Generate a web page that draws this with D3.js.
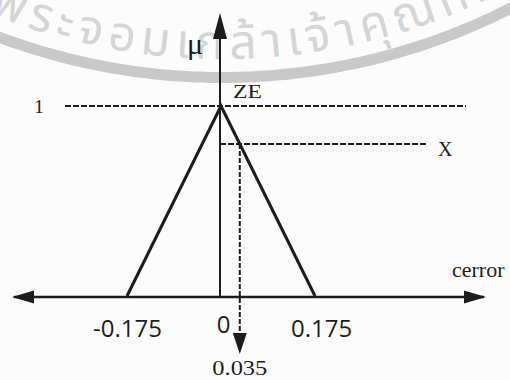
<!DOCTYPE html>
<html>
<head>
<meta charset="utf-8">
<script src="https://cdn.jsdelivr.net/npm/d3@7"></script>
<style>
  html, body { margin: 0; padding: 0; background: #fcfcfc; }
  svg { display: block; }
</style>
</head>
<body>
<svg id="chart" width="510" height="380"></svg>
<script>
// Triangular membership function "ZE" for the error input
const errorTicks = [-0.175, 0, 0.175];
const errorTickLabels = ["-0.175", "0", "0.175"];
const zeErrors = [-0.175, 0, 0.175];
const zeDegrees = [0, 1, 0];
const muTicks = [1];
const muTickLabels = ["1"];
const sampleError = 0.035;
const sampleErrorLabel = "0.035";
const setName = "ZE";
const sampleName = "X";
const xTitle = "cerror";
const yTitle = "μ";
const sealText = "พระจอมเกล้าเจ้าคุณทหาร";

const svg = d3.select("#chart");
const ink = "#1c1c1c";

const x = d3.scaleLinear().domain([-0.175, 0.175]).range([127, 315]);
const y = d3.scaleLinear().domain([0, 1]).range([296, 106]);

// membership degree of a crisp error on the ZE triangle
const zeMembership = d3.scaleLinear().domain(zeErrors).range(zeDegrees).clamp(true);
const sampleDegree = zeMembership(sampleError);

// faint seal printed behind the figure: ring segment and curved lettering
const sc = { cx: 222, cy: -558 };
const ringY = (px, r) => sc.cy + Math.sqrt(r * r - (px - sc.cx) * (px - sc.cx));
const ring = d3.area()
  .x((px) => px)
  .y0((px) => ringY(px, 630))
  .y1((px) => ringY(px, 641));
svg.append("path")
  .attr("d", ring(d3.range(-10, 525, 5)))
  .attr("fill", "#c9c9c9");

function arcPath(r, span) {
  const a0 = Math.PI / 2 + span, a1 = Math.PI / 2 - span;
  return `M${sc.cx + r * Math.cos(a0)},${sc.cy + r * Math.sin(a0)} A${r},${r} 0 0 0 ${sc.cx + r * Math.cos(a1)},${sc.cy + r * Math.sin(a1)}`;
}
svg.append("path")
  .attr("id", "sealPath")
  .attr("d", arcPath(617, 0.52))
  .attr("fill", "none");
svg.append("text")
  .attr("font-family", "'Noto Sans Thai', 'Noto Sans', 'DejaVu Sans', sans-serif")
  .attr("font-size", 48)
  .attr("letter-spacing", 6)
  .attr("fill", "#d5d5d5")
  .append("textPath")
  .attr("href", "#sealPath")
  .attr("startOffset", 82)
  .text(sealText);

// arrowhead helper
function arrow(tip, dir, len, half) {
  const [tx, ty] = tip;
  let pts;
  if (dir === "left") pts = [[tx, ty], [tx + len, ty - half], [tx + len, ty + half]];
  if (dir === "right") pts = [[tx, ty], [tx - len, ty - half], [tx - len, ty + half]];
  if (dir === "up") pts = [[tx, ty], [tx - half, ty + len], [tx + half, ty + len]];
  if (dir === "down") pts = [[tx, ty], [tx - half, ty - len], [tx + half, ty - len]];
  svg.append("path").attr("d", "M" + pts.join("L") + "Z").attr("fill", ink);
}

// horizontal axis with arrows at both ends
const axisY = y(0) + 1;
svg.append("line")
  .attr("x1", 14).attr("x2", 484).attr("y1", axisY).attr("y2", axisY)
  .attr("stroke", ink).attr("stroke-width", 2.6);
arrow([12, axisY], "left", 22, 6.5);
arrow([486, axisY], "right", 22, 6.5);

// vertical axis
const x0 = x(0) - 1;
svg.append("line")
  .attr("x1", x0).attr("x2", x0).attr("y1", axisY).attr("y2", 30)
  .attr("stroke", ink).attr("stroke-width", 2);
arrow([x0, 13], "up", 26, 7);

// error tick labels
const xAxis = d3.axisBottom(x)
  .tickValues(errorTicks)
  .tickSize(0)
  .tickFormat((d, i) => errorTickLabels[i]);
const gx = svg.append("g").attr("transform", `translate(0,${axisY})`).call(xAxis);
gx.select(".domain").remove();
gx.selectAll("text")
  .attr("font-family", "'Open Sans', sans-serif")
  .attr("font-size", 24)
  .attr("fill", ink)
  .attr("y", 0)
  .attr("dy", (d) => d === 0 ? 36 : 40)
  .attr("dx", (d) => d === 0 ? 2 : (d > 0 ? 6 : 0));

// membership level "1" guide
svg.selectAll(".mu-guide")
  .data(muTicks)
  .join("line")
  .attr("class", "mu-guide")
  .attr("x1", 65).attr("x2", 466)
  .attr("y1", (d) => y(d)).attr("y2", (d) => y(d))
  .attr("stroke", ink).attr("stroke-width", 2).attr("stroke-dasharray", "6,2");
svg.selectAll(".mu-label")
  .data(muTicks)
  .join("text")
  .attr("class", "mu-label")
  .attr("x", 39).attr("y", (d) => y(d) + 7)
  .attr("text-anchor", "middle")
  .attr("font-family", "'Liberation Serif', serif")
  .attr("font-size", 19)
  .attr("fill", ink)
  .text((d, i) => muTickLabels[i]);

// ZE triangle
const line = d3.line().x((d) => x(d[0])).y((d) => y(d[1]));
svg.append("path")
  .datum(zeErrors.map((e, i) => [e, zeDegrees[i]]))
  .attr("d", line)
  .attr("fill", "none").attr("stroke", ink).attr("stroke-width", 3)
  .attr("stroke-linejoin", "miter");

// degree of the sample error
const sx = x(sampleError);
svg.append("line")
  .attr("x1", x0).attr("x2", 428)
  .attr("y1", y(sampleDegree)).attr("y2", y(sampleDegree))
  .attr("stroke", ink).attr("stroke-width", 2).attr("stroke-dasharray", "6,2");
svg.append("line")
  .attr("x1", sx).attr("x2", sx)
  .attr("y1", y(sampleDegree)).attr("y2", 336)
  .attr("stroke", ink).attr("stroke-width", 2).attr("stroke-dasharray", "5,2");
arrow([sx, 354], "down", 21, 7);

// labels
const serif = "'Liberation Serif', 'Times New Roman', serif";
svg.append("text").attr("x", 195).attr("y", 54).attr("text-anchor", "middle")
  .attr("font-family", serif).attr("font-size", 30).attr("fill", ink).text(yTitle);
svg.append("text").attr("x", 233).attr("y", 98)
  .attr("font-family", serif).attr("font-size", 18).attr("fill", ink)
  .attr("textLength", 29).attr("lengthAdjust", "spacingAndGlyphs").text(setName);
svg.append("text").attr("x", 438).attr("y", 156)
  .attr("font-family", serif).attr("font-size", 20).attr("fill", ink).text(sampleName);
svg.append("text").attr("x", 452).attr("y", 277)
  .attr("font-family", serif).attr("font-size", 22).attr("fill", ink).text(xTitle);
svg.append("text").attr("x", sx).attr("y", 375).attr("text-anchor", "middle")
  .attr("font-family", serif).attr("font-size", 21).attr("fill", ink)
  .attr("textLength", 55).attr("lengthAdjust", "spacingAndGlyphs").text(sampleErrorLabel);
</script>
</body>
</html>
